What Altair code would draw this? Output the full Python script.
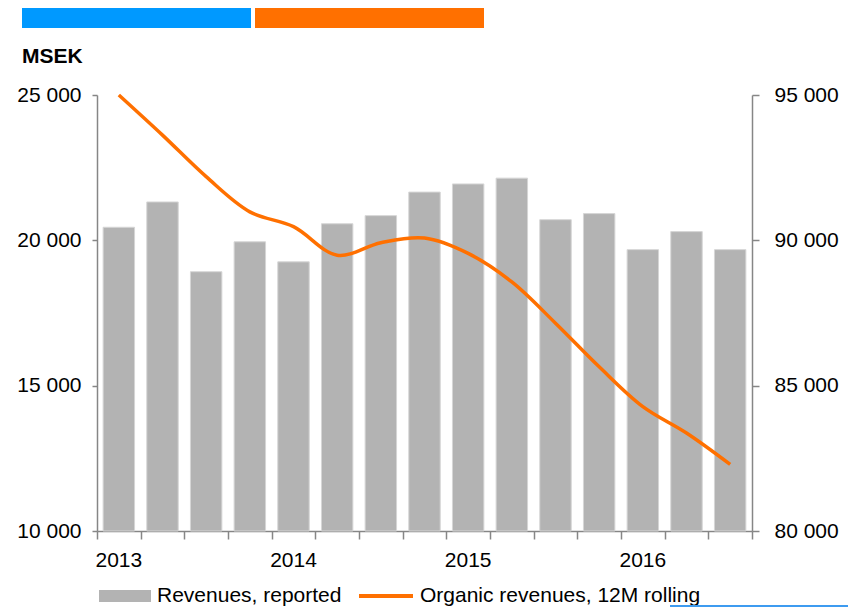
import altair as alt
import pandas as pd

quarters = ["Q1 2013", "Q2 2013", "Q3 2013", "Q4 2013",
            "Q1 2014", "Q2 2014", "Q3 2014", "Q4 2014",
            "Q1 2015", "Q2 2015", "Q3 2015", "Q4 2015",
            "Q1 2016", "Q2 2016", "Q3 2016"]
revenues = [20450, 21320, 18920, 19950, 19260, 20570, 20850, 21660,
            21940, 22140, 20710, 20920, 19680, 20300, 19680]
organic = [95000, 93620, 92190, 90980, 90470, 89490, 89920, 90080,
           89550, 88570, 87150, 85650, 84280, 83370, 82290]
left_ticks = [10000, 15000, 20000, 25000]
right_ticks = [80000, 85000, 90000, 95000]
legend_labels = ["Revenues, reported", "Organic revenues, 12M rolling"]

df = pd.DataFrame({"q": quarters, "rev": revenues, "org": organic})
df["i"] = range(len(quarters))
df["year"] = [q[3:] if q.startswith("Q1") else "" for q in quarters]
one = pd.DataFrame({"a": [0]})

FONT = "Liberation Sans"
GRAY_AX = "#868686"
BAR = "#B3B3B3"
ORANGE = "#FF7000"
BLUE = "#0099FF"
FS = 21
numfmt = "replace(format(datum.value, ','), ',', ' ')"
xscale = alt.Scale(domain=[0, len(quarters)], nice=False, zero=False, padding=0)

bars = alt.Chart(df).transform_calculate(
    x0="datum.i + 0.14", x1="datum.i + 0.86", base=str(left_ticks[0])
).mark_bar(color=BAR, stroke="#D6D6D6", strokeWidth=1).encode(
    x=alt.X("x0:Q", scale=xscale,
            axis=alt.Axis(title=None, values=list(range(len(quarters) + 1)),
                          labels=False, grid=False,
                          domainColor=GRAY_AX, tickColor=GRAY_AX, domainWidth=1.5,
                          tickWidth=1.5, tickSize=8)),
    x2="x1:Q",
    y=alt.Y("rev:Q", scale=alt.Scale(domain=[10000, 25000], zero=False, nice=False,
                                     padding=0),
            axis=alt.Axis(title=None, values=left_ticks, labelExpr=numfmt, grid=False,
                          orient="left", domainColor=GRAY_AX, tickColor=GRAY_AX,
                          domainWidth=1.5, tickWidth=1.5, tickSize=5, labelPadding=11,
                          labelFont=FONT, labelFontSize=FS, labelColor="black")),
    y2="base:Q",
)

line = alt.Chart(df).transform_calculate(
    xc="datum.i + 0.5"
).mark_line(color=ORANGE, strokeWidth=3.5, interpolate="catmull-rom").encode(
    x=alt.X("xc:Q", scale=xscale),
    y=alt.Y("org:Q", scale=alt.Scale(domain=[80000, 95000], zero=False, nice=False,
                                     padding=0),
            axis=alt.Axis(title=None, values=right_ticks, labelExpr=numfmt, grid=False,
                          orient="right", domainColor=GRAY_AX, tickColor=GRAY_AX,
                          domainWidth=1.5, tickWidth=1.5, tickSize=7, labelPadding=15,
                          labelFont=FONT, labelFontSize=FS, labelColor="black")),
)

years = alt.Chart(df).transform_filter("datum.year != ''").transform_calculate(
    xc="datum.i + 0.5"
).mark_text(font=FONT, fontSize=FS, baseline="alphabetic", align="center",
            color="black").encode(
    x=alt.X("xc:Q", scale=xscale),
    y=alt.value(472),
    text="year:N",
)

# decorations (pixel positions relative to plot origin)
blue_top = alt.Chart(one).mark_rect(color=BLUE).encode(
    x=alt.value(-75), x2=alt.value(154), y=alt.value(-87), y2=alt.value(-67))
orange_top = alt.Chart(one).mark_rect(color=ORANGE).encode(
    x=alt.value(158), x2=alt.value(387), y=alt.value(-87), y2=alt.value(-67))
msek = alt.Chart(one).mark_text(text="MSEK", font=FONT, fontSize=FS, fontWeight="bold",
                                align="left", baseline="alphabetic", color="black").encode(
    x=alt.value(-75), y=alt.value(-32))
leg_rect = alt.Chart(one).mark_rect(color=BAR).encode(
    x=alt.value(2), x2=alt.value(54), y=alt.value(495), y2=alt.value(507))
leg_t1 = alt.Chart(one).mark_text(text=legend_labels[0], font=FONT, fontSize=FS,
                                  align="left", baseline="alphabetic", color="black").encode(
    x=alt.value(60), y=alt.value(507))
leg_line = alt.Chart(one).mark_rule(color=ORANGE, strokeWidth=4).encode(
    x=alt.value(262), x2=alt.value(316), y=alt.value(501))
leg_t2 = alt.Chart(one).mark_text(text=legend_labels[1], font=FONT, fontSize=FS,
                                  align="left", baseline="alphabetic", color="black").encode(
    x=alt.value(323), y=alt.value(507))
blue_bottom = alt.Chart(one).mark_rule(color="#3D9BF0", strokeWidth=2).encode(
    x=alt.value(573), x2=alt.value(760), y=alt.value(511))

chart = alt.layer(bars, line, years, blue_top, orange_top, msek, leg_rect, leg_t1,
                  leg_line, leg_t2, blue_bottom).resolve_scale(
    y="independent"
).properties(
    width=655, height=436,
    autosize=alt.AutoSizeParams(type="none"),
    padding={"left": 89, "top": 87, "right": 96, "bottom": 76},
).configure_view(stroke=None)

chart.save("out.html", embed_options={"renderer": "svg", "actions": False})
